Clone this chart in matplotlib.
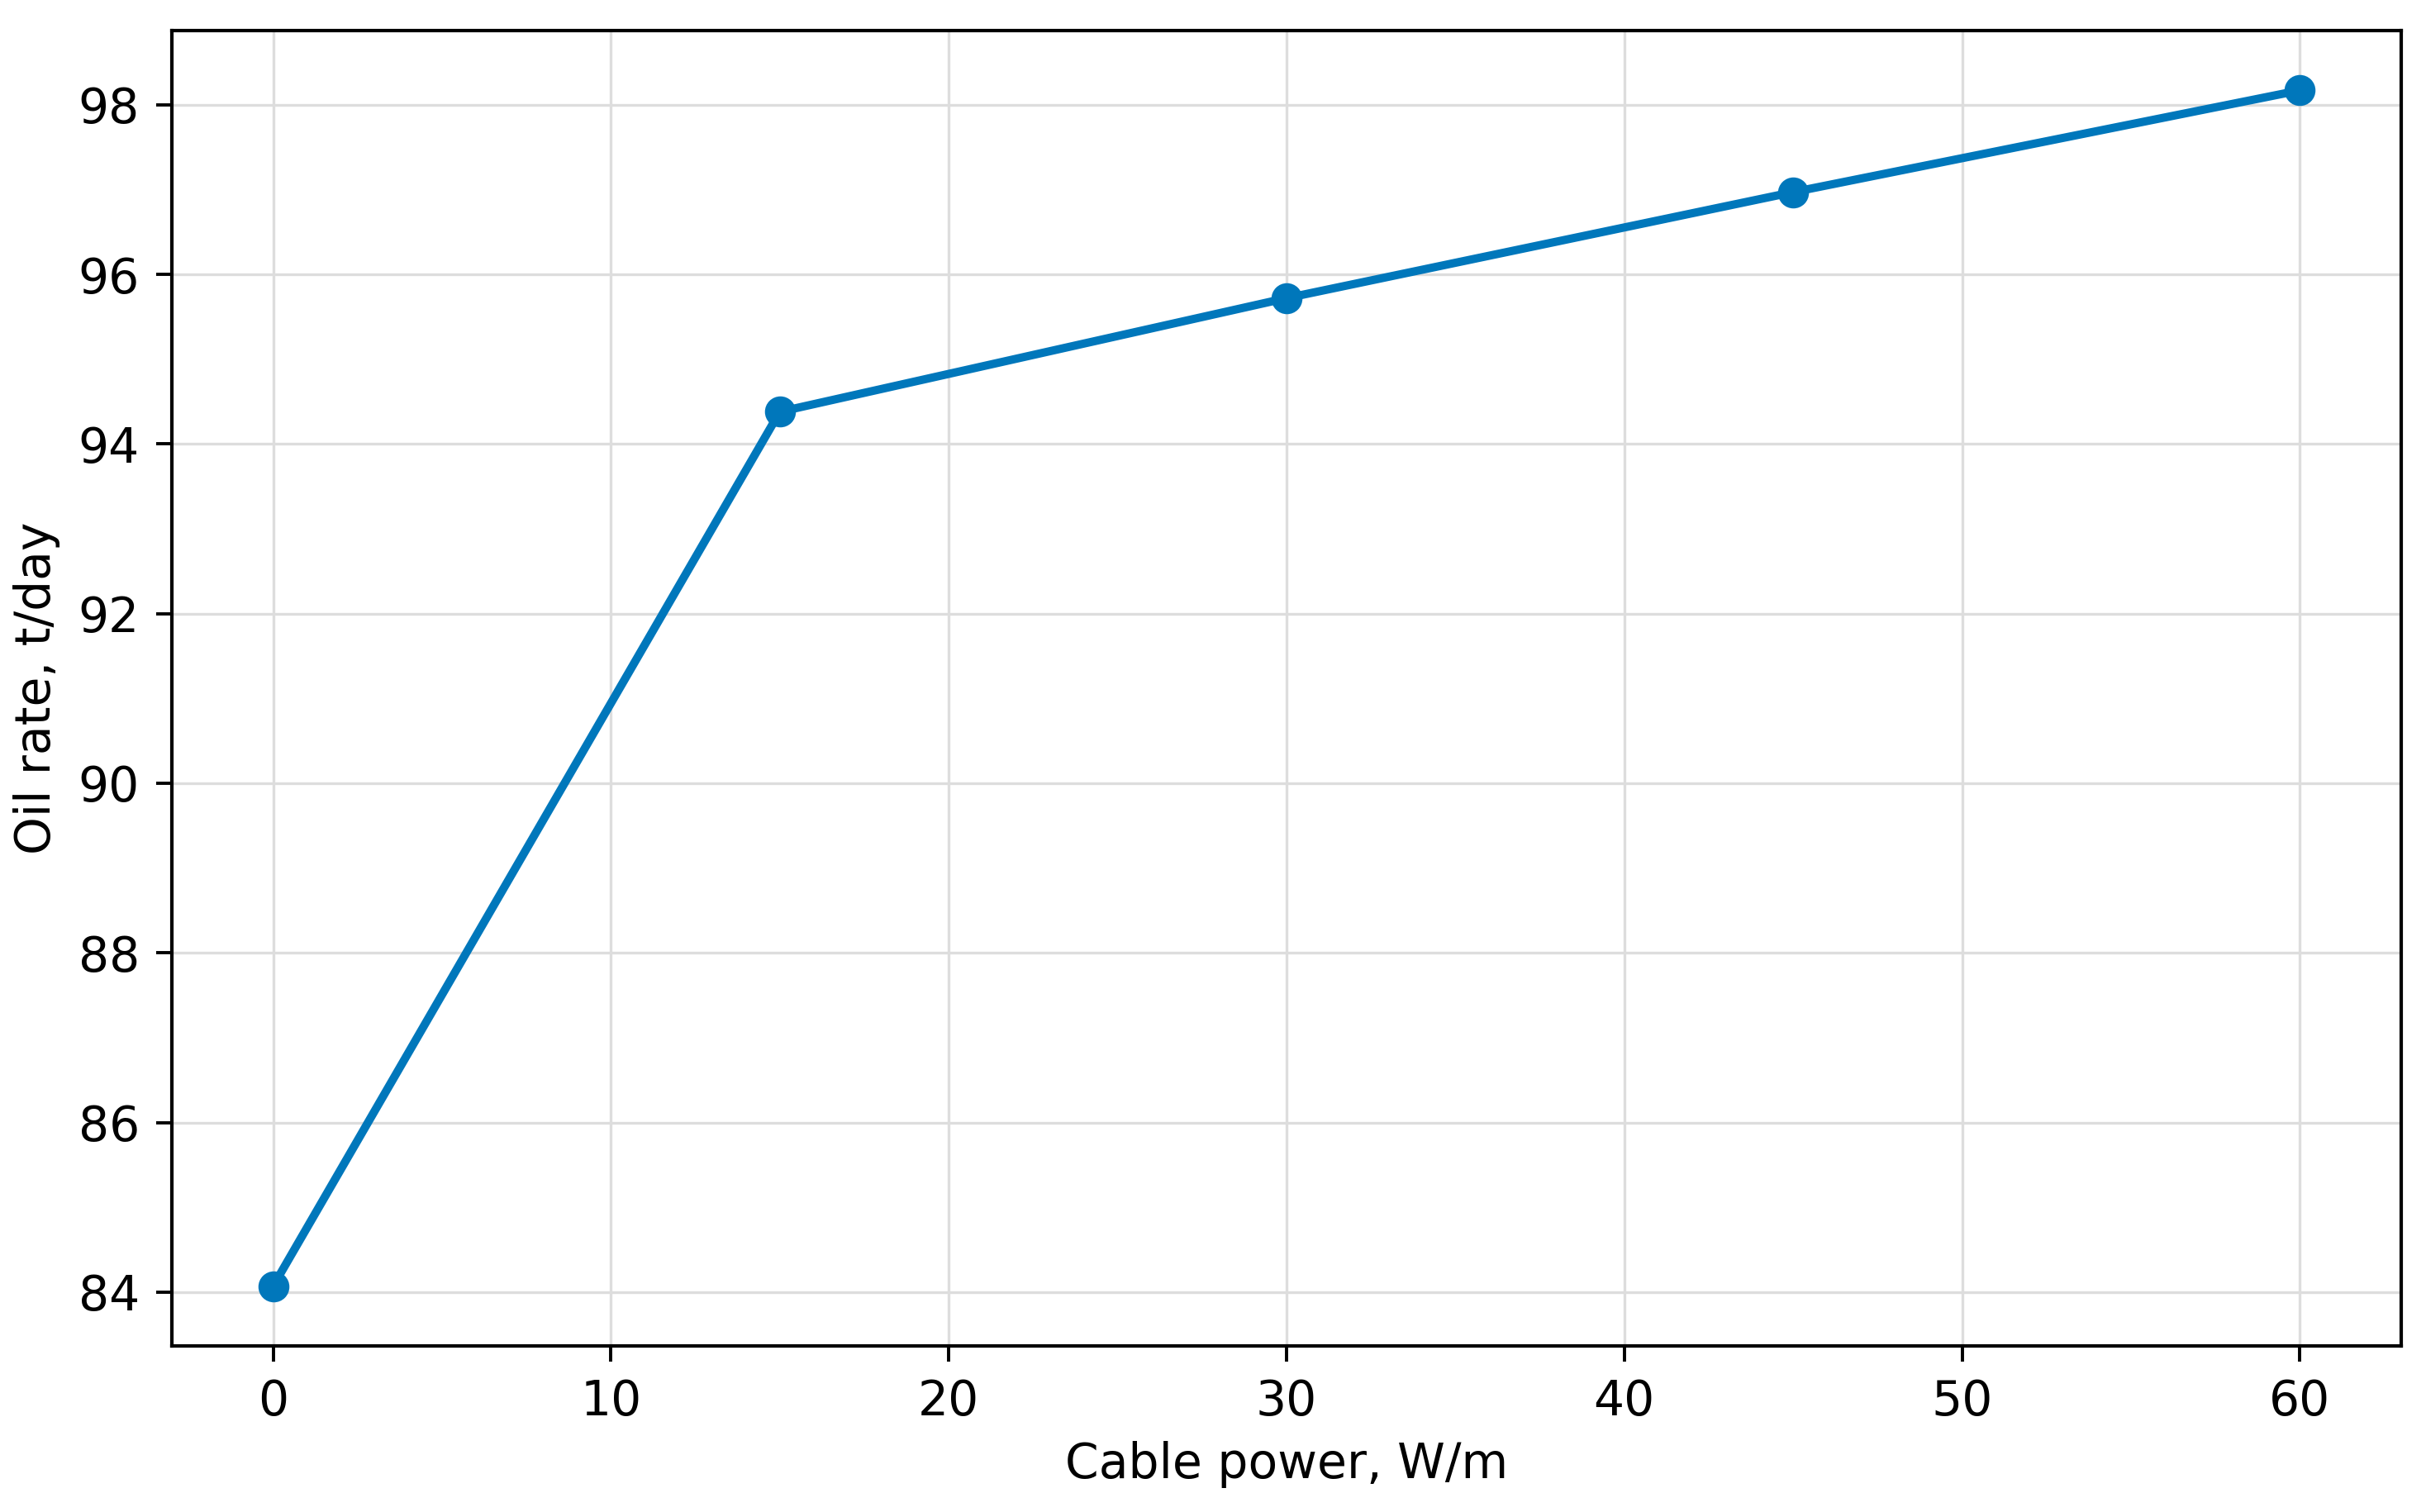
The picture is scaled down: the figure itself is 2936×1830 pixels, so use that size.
import matplotlib
matplotlib.use('Agg')
import matplotlib.pyplot as plt

# cable power (W/m) vs oil rate (t/day)
power = [0, 15, 30, 45, 60]
oil_rate = [84.07, 94.38, 95.72, 96.97, 98.17]

fig = plt.figure(figsize=(14.68, 9.15), dpi=200)
ax = fig.add_axes([0.0708, 0.1098, 0.919, 0.870])

ax.plot(power, oil_rate, color='#0077BB', linewidth=3.6, marker='o', markersize=12.5)

ax.grid(True, color='#dddddd', linewidth=1.2)
ax.set_axisbelow(True)
ax.set_xticks([0, 10, 20, 30, 40, 50, 60])
ax.set_yticks([84, 86, 88, 90, 92, 94, 96, 98])
ax.tick_params(labelsize=21, length=7, width=1.4, pad=7)
for s in ax.spines.values():
    s.set_linewidth(1.5)

ax.set_xlabel('Cable power, W/m', fontsize=21, labelpad=7)
ax.set_ylabel('Oil rate, t/day', fontsize=21, labelpad=8)

fig.savefig('out.png', dpi=200)
